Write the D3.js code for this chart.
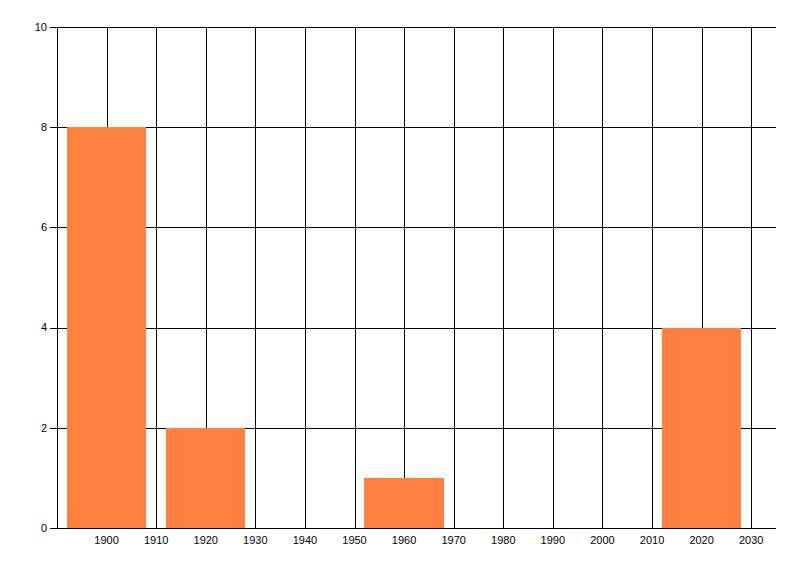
<!DOCTYPE html>
<html>
<head>
<meta charset="utf-8">
<script src="https://cdn.jsdelivr.net/npm/d3@7"></script>
<style>
  body { margin: 0; background: #fff; }
  text { font-family: "Liberation Sans", Arial, sans-serif; font-size: 11px; fill: #000; }
</style>
</head>
<body>
<div id="chart"></div>
<script>
// values
var years = [1900, 1920, 1960, 2020];
var counts = [8, 2, 1, 4];
var xTickValues = [1900, 1910, 1920, 1930, 1940, 1950, 1960, 1970, 1980, 1990, 2000, 2010, 2020, 2030];
var yTickValues = [0, 2, 4, 6, 8, 10];

var data = years.map(function(d, i) { return {year: d, count: counts[i]}; });

var W = 800, H = 576;
var plotLeft = 57, plotRight = 776, plotTop = 27, plotBottom = 528;

var x = d3.scaleLinear().domain([1890, 2035]).range([plotLeft, plotRight]);
var y = d3.scaleLinear().domain([0, 10]).range([plotBottom, plotTop]);

var svg = d3.select("#chart").append("svg")
    .attr("width", W)
    .attr("height", H);

var grid = svg.append("g")
    .attr("shape-rendering", "crispEdges")
    .attr("stroke", "#000")
    .attr("stroke-width", 1);

// horizontal grid lines with a small tick to the left
grid.selectAll(".hgrid")
    .data(yTickValues)
  .enter().append("line")
    .attr("class", "hgrid")
    .attr("x1", plotLeft - 7)
    .attr("x2", plotRight)
    .attr("y1", function(d) { return Math.round(y(d)) + 0.5; })
    .attr("y2", function(d) { return Math.round(y(d)) + 0.5; });

// vertical grid lines
grid.selectAll(".vgrid")
    .data(xTickValues)
  .enter().append("line")
    .attr("class", "vgrid")
    .attr("x1", function(d) { return Math.round(x(d)) + 0.5; })
    .attr("x2", function(d) { return Math.round(x(d)) + 0.5; })
    .attr("y1", plotTop)
    .attr("y2", plotBottom);

// bars, 16 years wide, centred on the year
svg.selectAll(".bar")
    .data(data)
  .enter().append("rect")
    .attr("class", "bar")
    .attr("shape-rendering", "crispEdges")
    .attr("x", function(d) { return Math.round(x(d.year - 8)); })
    .attr("width", function(d) { return Math.round(x(d.year + 8)) - Math.round(x(d.year - 8)); })
    .attr("y", function(d) { return Math.round(y(d.count)); })
    .attr("height", function(d) { return Math.round(y(0)) - Math.round(y(d.count)); })
    .style("fill", "#ff8040");

// axis lines on top
var axes = svg.append("g")
    .attr("shape-rendering", "crispEdges")
    .attr("stroke", "#000");

axes.append("line")
    .attr("x1", plotLeft + 0.5).attr("x2", plotLeft + 0.5)
    .attr("y1", plotTop).attr("y2", plotBottom + 1);

axes.append("line")
    .attr("x1", plotLeft - 7).attr("x2", plotRight)
    .attr("y1", Math.round(y(0)) + 0.5).attr("y2", Math.round(y(0)) + 0.5);

// tick labels
svg.selectAll(".ylabel")
    .data(yTickValues)
  .enter().append("text")
    .attr("class", "ylabel")
    .attr("x", plotLeft - 10)
    .attr("y", function(d) { return y(d); })
    .attr("dy", ".35em")
    .style("text-anchor", "end")
    .text(function(d) { return d; });

svg.selectAll(".xlabel")
    .data(xTickValues)
  .enter().append("text")
    .attr("class", "xlabel")
    .attr("x", function(d) { return x(d); })
    .attr("y", plotBottom + 16)
    .style("text-anchor", "middle")
    .text(function(d) { return d; });
</script>
</body>
</html>
